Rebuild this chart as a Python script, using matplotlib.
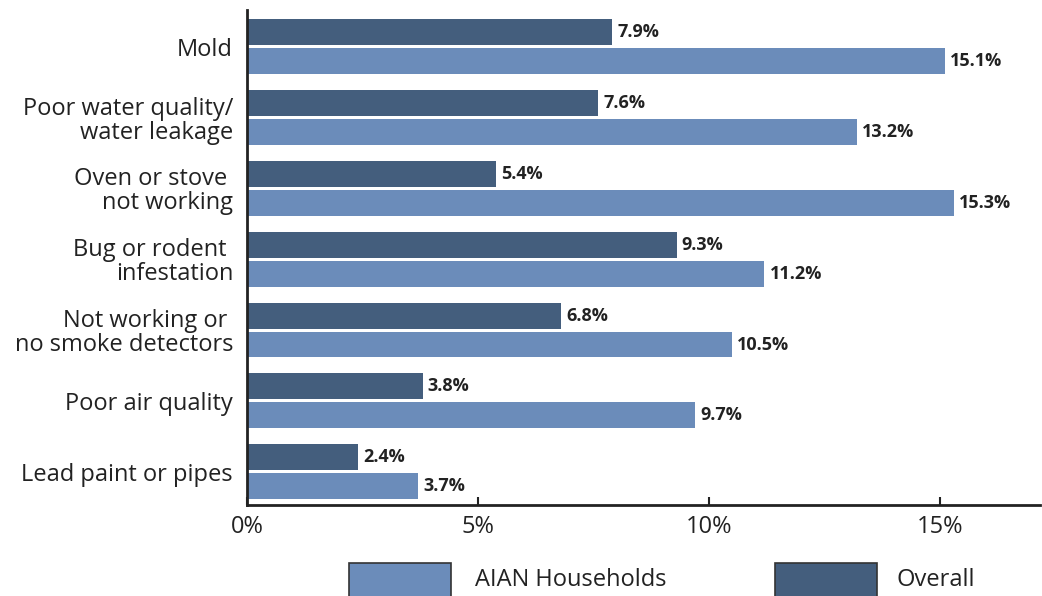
import matplotlib
matplotlib.use("Agg")
import matplotlib.pyplot as plt
from matplotlib.patches import Rectangle
import numpy as np

plt.rcParams['font.family'] = ['Open Sans', 'DejaVu Sans']

categories = ["Mold", "Poor water quality/\nwater leakage", "Oven or stove \nnot working",
              "Bug or rodent \ninfestation", "Not working or \nno smoke detectors",
              "Poor air quality", "Lead paint or pipes"]
overall = [7.9, 7.6, 5.4, 9.3, 6.8, 3.8, 2.4]
aian = [15.1, 13.2, 15.3, 11.2, 10.5, 9.7, 3.7]
xticks = [0, 5, 10, 15]
xticklabels = ["0%", "5%", "10%", "15%"]

c_dark = "#445E7D"
c_light = "#6B8CBA"
txt = "#222222"

W, H = 1042, 596
fig = plt.figure(figsize=(W/100, H/100), dpi=100)
ax = fig.add_axes([247/W, 1-505/H, (1040-247)/W, (505-10)/H])

y = np.arange(len(categories))
h = 0.366
off = 0.204
ax.barh(y - off, overall, height=h, color=c_dark)
ax.barh(y + off, aian, height=h, color=c_light)

for yi, v in zip(y, overall):
    ax.text(v + 0.11, yi - off, f"{v:.1f}%", va="center", ha="left",
            fontsize=13, fontweight="bold", color=txt)
for yi, v in zip(y, aian):
    ax.text(v + 0.11, yi + off, f"{v:.1f}%", va="center", ha="left",
            fontsize=13, fontweight="bold", color=txt)

ax.set_xlim(0, (1040-247)/46.2)
ax.set_ylim(6.47, -0.52)
ax.set_yticks(y)
ax.set_yticklabels(categories, fontsize=17, color=txt, ha="right", linespacing=1.0)
ax.tick_params(axis="y", length=0, pad=10)
ax.set_xticks(xticks)
ax.set_xticklabels(xticklabels, fontsize=17, color=txt)
ax.tick_params(axis="x", direction="in", length=6, width=1.5, color=txt, pad=7)

for s in ["top", "right"]:
    ax.spines[s].set_visible(False)
for s in ["left", "bottom"]:
    ax.spines[s].set_linewidth(2)
    ax.spines[s].set_color(txt)

# legend
fig.patches.append(Rectangle((349/W, 1-600/H), 102/W, 37/H, transform=fig.transFigure,
                             facecolor=c_light, edgecolor="#333333", linewidth=1.2))
fig.text(475/W, 1-580/H, "AIAN Households", fontsize=17, color=txt, va="center", ha="left")
fig.patches.append(Rectangle((775/W, 1-600/H), 102/W, 37/H, transform=fig.transFigure,
                             facecolor=c_dark, edgecolor="#333333", linewidth=1.2))
fig.text(897/W, 1-580/H, "Overall", fontsize=17, color=txt, va="center", ha="left")

fig.savefig("out.png", dpi=100)
